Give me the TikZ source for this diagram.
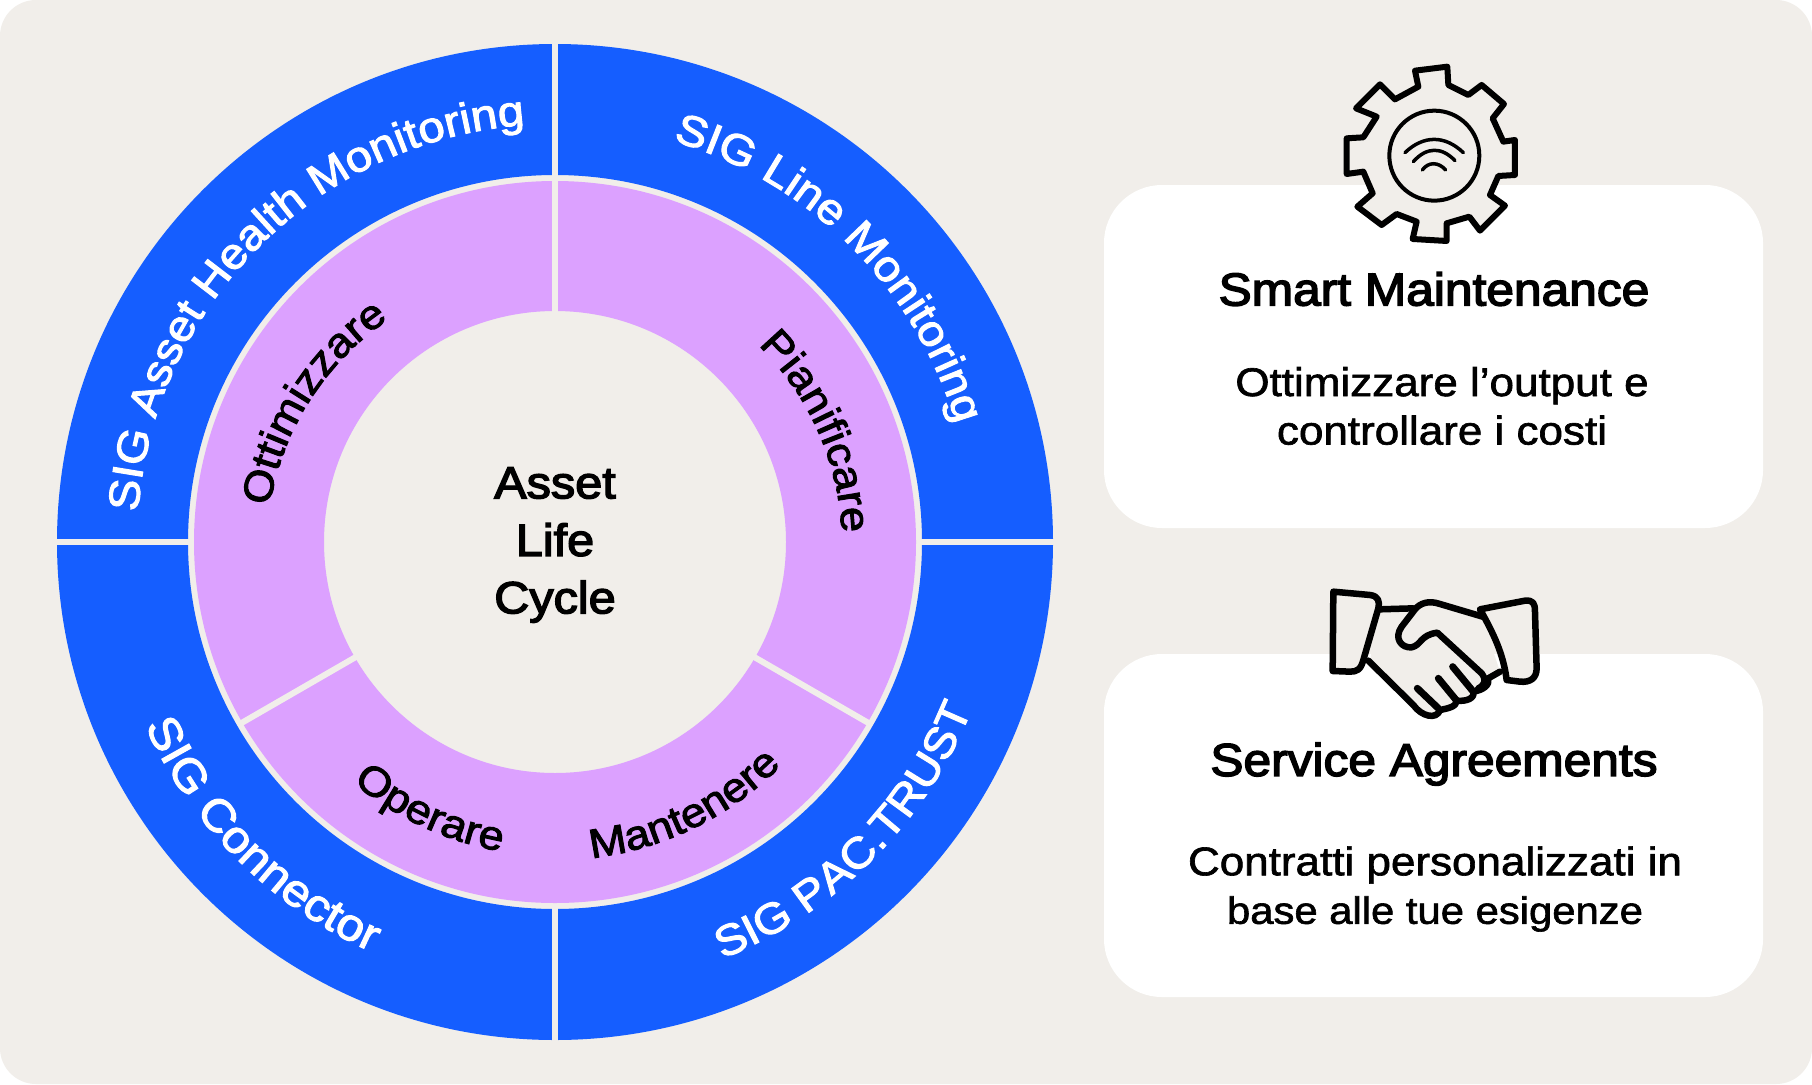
\documentclass[tikz,border=0pt]{standalone}
\usepackage{fontspec}
\usetikzlibrary{decorations.text}
\setmainfont{Liberation Sans}
\newfontfamily\medfont[FakeBold=1.6,FakeStretch=1.1]{Liberation Sans}
\newfontfamily\ringbold[FakeBold=2.4,FakeStretch=1.1]{Liberation Sans}
\newfontfamily\semifont[FakeBold=3.2,FakeStretch=1.08]{Liberation Sans}
\definecolor{bgcol}{HTML}{F1EEEA}
\definecolor{bluecol}{HTML}{155EFF}
\definecolor{pinkcol}{HTML}{DCA1FF}
\newcommand{\ringfont}{\fontsize{43}{43}\selectfont\ringbold}
\newcommand{\ringfontb}{\fontsize{45}{45}\selectfont\ringbold}
\newcommand{\pinkfont}{\fontsize{41}{41}\selectfont\ringbold}
\tikzset{
  cardbox/.style={fill=white,rounded corners=58pt,draw=none},
  gapline/.style={draw=bgcol,line width=6.5pt},
  icon/.style={draw=black,fill=bgcol,line join=round,line cap=round},
  thin icon/.style={draw=black,line cap=round,line width=3.5pt},
  title/.style={font=\fontsize{46}{46}\selectfont\semifont,text=black,align=center,anchor=center},
  body/.style={font=\fontsize{40}{48.5}\selectfont\medfont,text=black,align=center,anchor=center},
  hub/.style={font=\fontsize{45}{57.5}\selectfont\semifont,text=black,align=center,anchor=center},
  curved/.style={decorate,decoration={text along path,text align=center,text={#1}}}
}
\begin{document}
\begin{tikzpicture}[x=1pt,y=-1pt]
\useasboundingbox (0,0) rectangle (1812,1084);
\fill[white] (0,0) rectangle (1812,1084);
\fill[bgcol,rounded corners=36pt] (0,0) rectangle (1812,1084);
% cards
\fill[cardbox] (1104,185) rectangle (1763,528);
\fill[cardbox] (1104,654) rectangle (1763,997);
% wheel
\begin{scope}[shift={(555,542)},x=1pt,y=1pt]
  \fill[bluecol,even odd rule] (0,0) circle[radius=498pt] (0,0) circle[radius=367pt];
  \fill[pinkcol,even odd rule] (0,0) circle[radius=361pt] (0,0) circle[radius=231pt];
  \foreach \a in {0,90,180,270} \draw[gapline] (\a:364) -- (\a:500);
  \foreach \a in {90,210,330} \draw[gapline,line width=6pt] (\a:229) -- (\a:364);
  \path[curved={|\ringfont\color{white}|SIG Asset Health Monitoring}] (180:418) arc[start angle=180,end angle=90,radius=418pt];
  \path[curved={|\ringfont\color{white}|SIG Line Monitoring}] (90:418) arc[start angle=90,end angle=0,radius=418pt];
  \path[curved={|\ringfontb\color{white}|SIG Connector}] (180:449) arc[start angle=180,end angle=270,radius=449pt];
  \path[curved={|\ringfont\color{white}|SIG PAC.TRUST}] (270:449) arc[start angle=270,end angle=360,radius=449pt];
  \path[shift={(-9,-9)},curved={|\pinkfont\color{black}|Ottimizzare}] (205:280) arc[start angle=205,end angle=90,radius=280pt];
  \path[shift={(7,-3)},curved={|\pinkfont\color{black}|Pianificare}] (84:280) arc[start angle=84,end angle=-36,radius=280pt];
  \path[curved={|\pinkfont\color{black}|Operare}] (205:314) arc[start angle=205,end angle=285,radius=314pt];
  \path[curved={|\pinkfont\color{black}|Mantenere}] (256:318) arc[start angle=256,end angle=336,radius=318pt];
\end{scope}
\node[hub] (hubtext) at (555,545) {Asset\\Life\\Cycle};
% card text
\node[title] (smart) at (1434,289) {Smart Maintenance};
\node[body] (smartbody) at (1442,406) {Ottimizzare l’output e\\controllare i costi};
\node[title] (service) at (1434,764) {Service Agreements};
\node[body] (servicebody) at (1435,889) {Contratti personalizzati in\\\fontsize{38}{48.5}\selectfont base alle tue esigenze};
% gear icon
\begin{scope}[shift={(1300,40)},x=0.3333pt,y=-0.3333pt]
  \draw[icon,line width=6pt] (345,92) -- (442,80) -- (445,135) -- (505,165) -- (545,135) -- (612,192) -- (578,235) -- (610,305) -- (645,300) -- (645,405) -- (595,408) -- (570,465) -- (615,497) -- (540,572) -- (508,530) -- (440,550) -- (440,603) -- (338,597) -- (350,545) -- (290,522) -- (245,555) -- (172,500) -- (218,460) -- (190,395) -- (140,402) -- (140,295) -- (190,292) -- (230,230) -- (168,205) -- (240,133) -- (285,178) -- (355,140) -- cycle;
  \draw[draw=black,line width=4pt] (403,347) circle[radius=45pt];
  \draw[thin icon] (315,338) .. controls (370,285) and (435,285) .. (490,338);
  \draw[thin icon] (340,365) .. controls (380,320) and (425,320) .. (465,362);
  \draw[thin icon] (367,390) .. controls (385,365) and (415,365) .. (437,390);
\end{scope}
% handshake icon
\begin{scope}[shift={(1300,570)},x=0.3333pt,y=-0.3333pt]
  \fill[bgcol] (238,118) -- (340,115) -- (400,95) -- (545,140) -- (600,305) -- (555,350) -- (515,375) -- (465,400) -- (415,425) -- (390,445) -- (350,425) -- (210,270) -- cycle;
  \draw[icon,line width=6.5pt,fill=none] (238,118) -- (340,115);
  \draw[icon,line width=6.5pt,fill=none] (205,272) -- (340,405) .. controls (365,440) and (410,450) .. (420,420) .. controls (445,415) and (470,410) .. (470,392) .. controls (500,395) and (525,385) .. (520,365) .. controls (550,360) and (570,345) .. (565,325) -- (600,305);
  \draw[icon,line width=6.5pt,fill=none] (548,140) -- (420,102) .. controls (385,90) and (360,100) .. (345,118) -- (305,170) .. controls (280,205) and (305,235) .. (335,232) .. controls (365,225) and (360,195) .. (412,188) -- (545,310) .. controls (560,330) and (555,345) .. (535,355);
  \draw[icon,line width=7pt,fill=none] (352,355) -- (415,415);
  \draw[icon,line width=7pt,fill=none] (415,325) -- (470,392);
  \draw[icon,line width=7pt,fill=none] (458,290) -- (520,365);
  \draw[icon,line width=6.5pt] (100,65) -- (210,75) .. controls (235,78) and (240,95) .. (235,115) -- (190,270) .. controls (182,300) and (170,305) .. (150,305) -- (98,303) -- cycle;
  \draw[icon,line width=6.5pt] (540,118) -- (675,92) .. controls (700,90) and (705,100) .. (705,125) -- (710,295) .. controls (710,325) and (690,338) .. (660,335) -- (620,330) .. controls (610,250) and (580,190) .. (540,118) -- cycle;
\end{scope}
\end{tikzpicture}
\end{document}
